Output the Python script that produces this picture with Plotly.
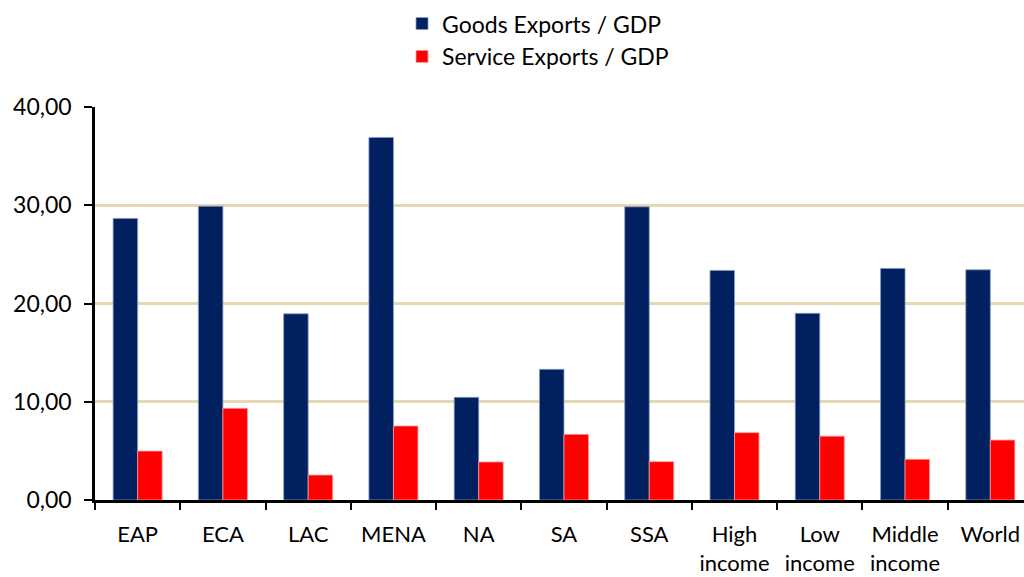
import plotly.graph_objects as go

categories = ["EAP", "ECA", "LAC", "MENA", "NA", "SA", "SSA",
              "High<br>income", "Low<br>income", "Middle<br>income", "World"]
goods_exports = [28.66, 29.9, 18.95, 36.9, 10.45, 13.3, 29.84, 23.37, 19.0, 23.57, 23.43]
service_exports = [4.98, 9.33, 2.54, 7.53, 3.87, 6.68, 3.9, 6.85, 6.5, 4.14, 6.1]
y_ticks = [0, 10, 20, 30, 40]

FONT = "Lato"
FS = 23

fig = go.Figure()
fig.add_trace(go.Bar(
    x=categories, y=goods_exports, name="Goods Exports / GDP",
    marker=dict(color="#002060", line=dict(color="#8a9ac0", width=0.8)),
    legendgroup="g1",
))
fig.add_trace(go.Bar(
    x=categories, y=service_exports, name="Service Exports / GDP",
    marker=dict(color="#FF0000", line=dict(color="#ff9a9a", width=0.8)),
    legendgroup="g2",
))

fig.update_layout(
    width=1024, height=577,
    margin=dict(l=95, r=0, t=107, b=77, autoexpand=False),
    paper_bgcolor="white", plot_bgcolor="white",
    barmode="group", bargap=0.425, bargroupgap=0,
    separators=",.",
    font=dict(family=FONT, size=FS, color="black"),
    showlegend=True,
    legend=dict(
        orientation="v", xref="container", yref="paper",
        x=0.3926, y=1.267, xanchor="left", yanchor="top",
        font=dict(family=FONT, size=FS, color="black"),
        tracegroupgap=0, itemwidth=30, bgcolor="rgba(0,0,0,0)",
    ),
    xaxis=dict(
        range=[-0.5, 10.395], showline=True, linecolor="black", linewidth=2.5,
        ticks="outside", tickson="boundaries", ticklen=7, tickwidth=2, tickcolor="black",
        showgrid=False, tickangle=0, automargin=False, ticklabelstandoff=13,
        tickfont=dict(family=FONT, size=22, color="black"),
    ),
    yaxis=dict(
        range=[0, 40], tickvals=y_ticks, tickformat=".2f",
        showline=True, linecolor="black", linewidth=2.5,
        ticks="outside", ticklen=8, tickwidth=2, tickcolor="black",
        showgrid=True, gridcolor="#E6D8B5", gridwidth=2.5,
        zeroline=False, ticklabelstandoff=8, automargin=False,
        tickfont=dict(family=FONT, size=FS, color="black"),
    ),
)

fig.write_html("out.html",
               config={"displayModeBar": False},
               post_script="document.body.style.margin='0';document.body.style.overflow='hidden';")
